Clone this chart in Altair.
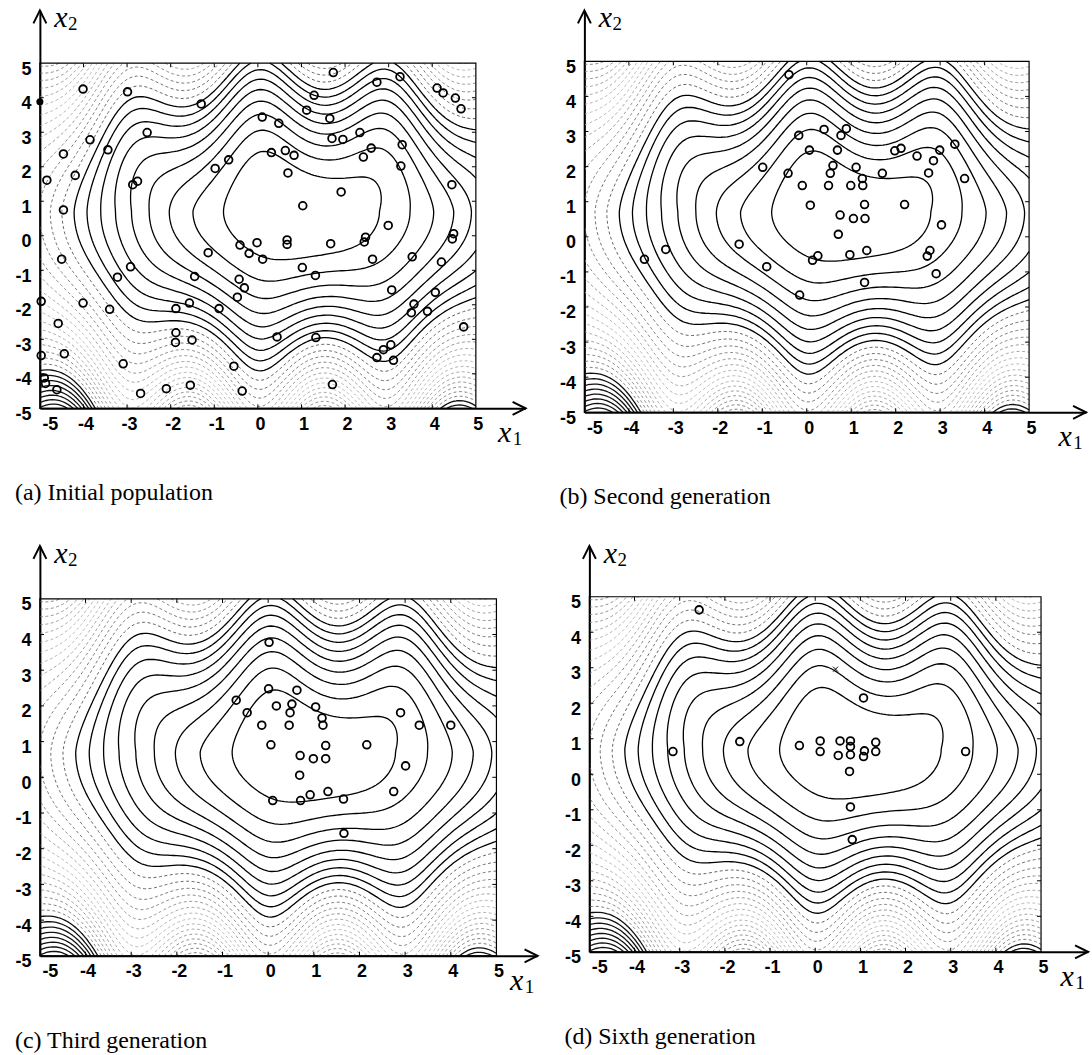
import numpy as np
import pandas as pd
import altair as alt

TICKS = [-5, -4, -3, -2, -1, 0, 1, 2, 3, 4, 5]

# ---------------- population points ----------------
A_X1 = [1.73, 2.73, 3.26, 1.29, 1.12, 1.65, 0.10, 0.48, 1.70, 1.95,
        2.34, 2.60, 2.42, 3.31, 3.28, 4.45, 2.99, 1.91, 1.03, 0.69,
        0.31, 0.63, 0.83, -0.67, -0.98, -1.30, -2.99, -4.01, -2.54, -3.85,
        -3.44, -4.46, -4.19, -4.84, -2.76, -2.87, -4.46, -4.50, -2.92, -3.22,
        -1.14, -1.45, -0.41, -0.02, -0.20, 0.11, 0.67, 0.67, 1.67, 2.47,
        2.44, 2.63, 4.49, 4.46, 3.54, 4.21, 3.07, 4.07, 3.58, 3.52,
        3.89, 4.72, 1.02, 1.32, -0.43, -0.31, -0.47, -0.89, -1.57, -1.88,
        -3.40, -4.01, -4.97, -4.58, -1.88, -1.89, -1.51, -4.44, -4.97, -3.09,
        -0.55, 0.44, 1.33, 2.73, 2.88, 3.05, 3.11, -4.90, -4.87, -4.61,
        -2.69, -2.10, -1.55, -0.36, 1.71, 4.11, 4.25, 4.53, 4.66]
A_X2 = [4.73, 4.45, 4.61, 4.07, 3.64, 3.40, 3.44, 3.26, 2.82, 2.79,
        2.99, 2.54, 2.28, 2.64, 2.02, 1.48, 0.30, 1.27, 0.87, 1.82,
        2.41, 2.47, 2.33, 2.20, 1.95, 3.82, 4.17, 4.25, 2.99, 2.78,
        2.49, 2.37, 1.75, 1.61, 1.58, 1.48, 0.75, -0.68, -0.90, -1.20,
        -0.49, -1.18, -0.27, -0.20, -0.51, -0.68, -0.12, -0.25, -0.23, -0.04,
        -0.18, -0.68, 0.06, -0.09, -0.61, -0.76, -1.57, -1.64, -1.98, -2.23,
        -2.19, -2.64, -0.92, -1.15, -1.26, -1.51, -1.78, -2.11, -1.95, -2.11,
        -2.13, -1.95, -1.90, -2.54, -2.81, -3.09, -3.02, -3.42, -3.47, -3.71,
        -3.78, -2.93, -2.95, -3.53, -3.30, -3.16, -3.61, -4.12, -4.28, -4.46,
        -4.57, -4.43, -4.33, -4.50, -4.31, 4.28, 4.14, 3.99, 3.68]
A_FILLED_X1 = [-5.0]
A_FILLED_X2 = [3.88]

B_X1 = [-0.40, -0.18, 0.39, 0.77, 0.89, 0.06, 0.69, -0.99, -0.42, 0.59,
        0.53, 1.11, 1.25, 1.70, -0.10, 0.49, 0.99, 1.26, 1.98, 2.12,
        2.48, 2.85, 2.99, 3.33, 2.74, 3.55, 0.08, 1.30, 2.20, 0.75,
        1.05, 1.31, 0.71, 3.03, -1.52, -3.17, -3.65, -0.90, 0.13, 0.25,
        0.97, 1.35, 2.71, 2.77, 2.91, 1.30, -0.16]
B_X2 = [4.62, 2.89, 3.06, 2.89, 3.08, 2.47, 2.47, 1.98, 1.81, 2.03,
        1.81, 1.98, 1.66, 1.81, 1.46, 1.46, 1.46, 1.46, 2.45, 2.52,
        2.30, 2.17, 2.47, 2.64, 1.82, 1.66, 0.90, 0.92, 0.92, 0.62,
        0.52, 0.52, 0.07, 0.34, -0.21, -0.36, -0.64, -0.85, -0.67, -0.54,
        -0.51, -0.39, -0.55, -0.39, -1.05, -1.30, -1.66]

C_X1 = [0.02, 0.01, 0.63, -0.70, -0.46, 0.18, 0.52, 0.48, 1.04, 1.18,
        1.20, -0.14, 0.46, 0.06, 1.26, 2.16, 0.70, 0.99, 1.26, 0.69,
        2.90, 3.31, 4.00, 3.01, 2.75, 1.31, 0.92, 0.71, 0.10, 1.65,
        1.66]
C_X2 = [3.78, 2.48, 2.44, 2.16, 1.81, 2.00, 2.05, 1.81, 1.97, 1.66,
        1.46, 1.46, 1.46, 0.91, 0.89, 0.91, 0.61, 0.52, 0.52, 0.06,
        1.81, 1.46, 1.46, 0.32, -0.40, -0.40, -0.49, -0.65, -0.65, -0.61,
        -1.57]

D_X1 = [-2.57, 1.07, -1.67, -3.15, -0.35, 0.11, 0.11, 0.55, 0.78, 0.78,
        0.78, 0.51, 1.09, 1.07, 1.34, 1.34, 0.76, 0.78, 0.82, 3.33]
D_X2 = [4.63, 2.15, 0.92, 0.64, 0.81, 0.94, 0.64, 0.94, 0.94, 0.78,
        0.55, 0.53, 0.66, 0.50, 0.90, 0.64, 0.08, -0.92, -1.84, 0.64]
D_CROSS_X1 = [0.45]
D_CROSS_X2 = [2.96]

CAPTIONS = ["(a) Initial population", "(b) Second generation",
            "(c) Third generation", "(d) Sixth generation"]

# ---------------- objective landscape (shape estimated from the contours) ----------------
C1, C2 = 1.0, 0.7
AY = 0.78
PERIOD = 3.0
TOP_K, TOP_P = 1.35, 1.22
BOT_K, BOT_S, BOT_P = 0.5, 1.4, 2.4
LEVEL_START, LEVEL_STEP, N_LEVELS = 3.2, 3.0, 34
SOLID_MAX = 28.0
DARK_MIN = 74.5
GRID_N = 141


def landscape(x1, x2):
    u = x1 - C1
    v = x2 - C2
    av = np.abs(v)
    amp = np.where(v >= 0, TOP_K * av ** TOP_P, BOT_K * (av / BOT_S) ** BOT_P)
    return u ** 2 + (v / AY) ** 2 - amp * np.cos(2 * np.pi * x1 / PERIOD)


def trace_level(z, xs, ys, lev):
    above = z >= lev
    b00 = above[:-1, :-1]; b10 = above[:-1, 1:]; b11 = above[1:, 1:]; b01 = above[1:, :-1]
    mixed = ~((b00 == b10) & (b10 == b11) & (b11 == b01))
    jj, ii = np.nonzero(mixed)
    segs = []
    for j, i in zip(jj.tolist(), ii.tolist()):
        c00, c10, c11, c01 = above[j, i], above[j, i + 1], above[j + 1, i + 1], above[j + 1, i]
        B = ('h', j, i); R = ('v', j, i + 1); T = ('h', j + 1, i); L = ('v', j, i)
        cross = []
        if c00 != c10: cross.append(B)
        if c10 != c11: cross.append(R)
        if c11 != c01: cross.append(T)
        if c01 != c00: cross.append(L)
        if len(cross) == 2:
            segs.append((cross[0], cross[1]))
        else:
            centre = 0.25 * (z[j, i] + z[j, i + 1] + z[j + 1, i + 1] + z[j + 1, i]) >= lev
            if c00:
                segs += [(B, R), (T, L)] if centre else [(L, B), (R, T)]
            else:
                segs += [(L, B), (R, T)] if centre else [(B, R), (T, L)]

    def pt(key):
        kind, j, i = key
        if kind == 'h':
            z0, z1 = z[j, i], z[j, i + 1]
            t = (lev - z0) / (z1 - z0)
            return float(xs[i] + t * (xs[i + 1] - xs[i])), float(ys[j])
        z0, z1 = z[j, i], z[j + 1, i]
        t = (lev - z0) / (z1 - z0)
        return float(xs[i]), float(ys[j] + t * (ys[j + 1] - ys[j]))

    nb = {}
    for k, (p, q) in enumerate(segs):
        nb.setdefault(p, []).append(k)
        nb.setdefault(q, []).append(k)
    used = [False] * len(segs)

    def walk(key, k):
        path = [key]
        while k is not None and not used[k]:
            used[k] = True
            p, q = segs[k]
            key = q if p == key else p
            path.append(key)
            nxt = None
            for k2 in nb[key]:
                if not used[k2]:
                    nxt = k2
                    break
            k = nxt
        return path

    paths = []
    for key, lst in nb.items():
        if len(lst) == 1 and not used[lst[0]]:
            paths.append(walk(key, lst[0]))
    for k in range(len(segs)):
        if not used[k]:
            paths.append(walk(segs[k][0], k))
    return [[pt(key) for key in path] for path in paths]


def contour_frame():
    gx = np.linspace(-5, 5, GRID_N)
    gy = np.linspace(-5, 5, GRID_N)
    XX, YY = np.meshgrid(gx, gy)
    Z = landscape(XX, YY)
    rows = []
    pid = 0
    for n in range(N_LEVELS):
        lev = LEVEL_START + n * LEVEL_STEP
        if lev > Z.max():
            break
        grp = 'solid' if lev <= SOLID_MAX else ('dark' if lev >= DARK_MIN else 'mid')
        for path in trace_level(Z, gx, gy, lev):
            for k, (px, py) in enumerate(path):
                rows.append((round(px, 3), round(py, 3), pid, k, round(lev, 1), grp))
            pid += 1
    return pd.DataFrame(rows, columns=['x', 'y', 'pid', 'ord', 'lev', 'grp'])


CONTOUR_DF = contour_frame()

TICK_IN = [-4, -3, -2, -1, 0, 1, 2, 3, 4]
HT = pd.DataFrame({'x': TICK_IN * 2,
                   'y': [-5.0] * 9 + [5.0] * 9,
                   'ye': [-4.885] * 9 + [4.885] * 9})
VT = pd.DataFrame({'y': TICK_IN * 2,
                   'x': [-5.0] * 9 + [5.0] * 9,
                   'xe': [-4.91] * 9 + [4.91] * 9})
BOX = pd.DataFrame({'x': [-5.0], 'y': [-5.0], 'xe': [5.0], 'ye': [5.0]})

LABEL_EXPR = "datum.value < 0 ? '-' + abs(datum.value) : '' + datum.value"
ARROW = 'M -1 2 L 0 0 L 1 2'


def panel(p1, p2, caption, xmax, ymax, w, h, filled=None, cross=None):
    xsc = alt.Scale(domain=[-5, xmax], nice=False, zero=False)
    ysc = alt.Scale(domain=[-5, ymax], nice=False, zero=False)
    xax = alt.Axis(values=TICKS, title=None, grid=False, ticks=False, tickSize=0,
                   labelPadding=7, labelFont='Liberation Sans', labelFontSize=18,
                   labelFontWeight='bold', labelColor='black', domainColor='black',
                   domainWidth=2, labelOffset=2, labelExpr=LABEL_EXPR)
    yax = alt.Axis(values=TICKS, title=None, grid=False, ticks=False, tickSize=0,
                   labelPadding=9, labelFont='Liberation Sans', labelFontSize=18,
                   labelFontWeight='bold', labelColor='black', domainColor='black',
                   domainWidth=2, labelOffset=6, labelExpr=LABEL_EXPR)
    X = alt.X('x:Q', scale=xsc, axis=xax)
    Y = alt.Y('y:Q', scale=ysc, axis=yax)

    cont = alt.Chart(CONTOUR_DF)
    solid = cont.transform_filter("datum.grp == 'solid'").mark_line(
        color='black', strokeWidth=1.3).encode(x=X, y=Y, detail='pid:N', order='ord:Q')
    mid = cont.transform_filter("datum.grp == 'mid'").mark_line(
        strokeWidth=0.9, strokeDash=[3, 2.5]).encode(
        x=X, y=Y, detail='pid:N', order='ord:Q',
        color=alt.Color('lev:Q', legend=None,
                        scale=alt.Scale(domain=[28, 50, 74], range=['#444444', '#b8b8b8', '#6a6a6a'])))
    dark = cont.transform_filter("datum.grp == 'dark'").mark_line(
        color='#111111', strokeWidth=1.3).encode(x=X, y=Y, detail='pid:N', order='ord:Q')

    box = alt.Chart(BOX).mark_rect(fillOpacity=0, stroke='black', strokeWidth=1.2).encode(
        x=X, y=Y, x2='xe:Q', y2='ye:Q')
    ht = alt.Chart(HT).mark_rule(color='black', strokeWidth=1).encode(x=X, y=Y, y2='ye:Q')
    vt = alt.Chart(VT).mark_rule(color='black', strokeWidth=1).encode(x=X, x2='xe:Q', y=Y)

    up = alt.Chart(pd.DataFrame({'x': [-5.0], 'y': [ymax]}))
    right = alt.Chart(pd.DataFrame({'x': [xmax], 'y': [-5.0]}))
    arrow_up = up.mark_point(shape=ARROW, filled=False, size=169, stroke='black',
                             strokeWidth=2, opacity=1).encode(x=X, y=Y)
    arrow_right = right.mark_point(shape=ARROW, filled=False, size=169, stroke='black',
                                   strokeWidth=2, opacity=1, angle=90).encode(x=X, y=Y)
    x2_main = up.mark_text(text='x', font='Liberation Serif', fontStyle='italic', fontSize=30,
                           align='center', baseline='alphabetic', dx=21, dy=17,
                           color='black').encode(x=X, y=Y)
    x2_sub = up.mark_text(text='2', font='Liberation Serif', fontSize=19,
                          align='center', baseline='alphabetic', dx=33, dy=20,
                          color='black').encode(x=X, y=Y)
    x1_main = right.mark_text(text='x', font='Liberation Serif', fontStyle='italic', fontSize=30,
                              align='center', baseline='alphabetic', dx=-21, dy=34,
                              color='black').encode(x=X, y=Y)
    x1_sub = right.mark_text(text='1', font='Liberation Serif', fontSize=19,
                             align='center', baseline='alphabetic', dx=-8, dy=37,
                             color='black').encode(x=X, y=Y)

    pts = alt.Chart(pd.DataFrame({'x': p1, 'y': p2})).mark_point(
        shape='circle', filled=False, size=60, strokeWidth=1.8, color='black', opacity=1
    ).encode(x=X, y=Y)
    layers = [solid, mid, dark, box, ht, vt, arrow_up, arrow_right, pts,
              x2_main, x2_sub, x1_main, x1_sub]
    if filled is not None:
        layers.append(alt.Chart(pd.DataFrame({'x': filled[0], 'y': filled[1]})).mark_point(
            shape='circle', filled=True, size=50, color='black', opacity=1).encode(x=X, y=Y))
    if cross is not None:
        layers.append(alt.Chart(pd.DataFrame({'x': cross[0], 'y': cross[1]})).mark_point(
            shape='M -1 -1 L 1 1 M -1 1 L 1 -1', filled=False, size=25, stroke='black',
            strokeWidth=1, opacity=1).encode(x=X, y=Y))
    return alt.layer(*layers).properties(
        width=w, height=h,
        title=alt.TitleParams(text=caption, orient='bottom', anchor='start',
                              font='Liberation Serif', fontSize=24, fontWeight='normal',
                              color='black', offset=32))


pa = panel(A_X1, A_X2, CAPTIONS[0], 6.14, 6.53, 487, 399, filled=(A_FILLED_X1, A_FILLED_X2))
pb = panel(B_X1, B_X2, CAPTIONS[1], 6.28, 6.45, 503, 403)
pc = panel(C_X1, C_X2, CAPTIONS[2], 5.90, 6.48, 499, 411)
pd_ = panel(D_X1, D_X2, CAPTIONS[3], 6.04, 6.43, 500, 407, cross=(D_CROSS_X1, D_CROSS_X2))

chart = alt.vconcat(
    alt.hconcat(pa, pb, spacing=29),
    alt.hconcat(pc, pd_, spacing=22),
    spacing=30,
).properties(
    padding={'left': 14, 'top': 2, 'right': 0, 'bottom': 0}
).configure_view(strokeWidth=0)

chart.save("out.html", embed_options={"renderer": "svg", "actions": False})
